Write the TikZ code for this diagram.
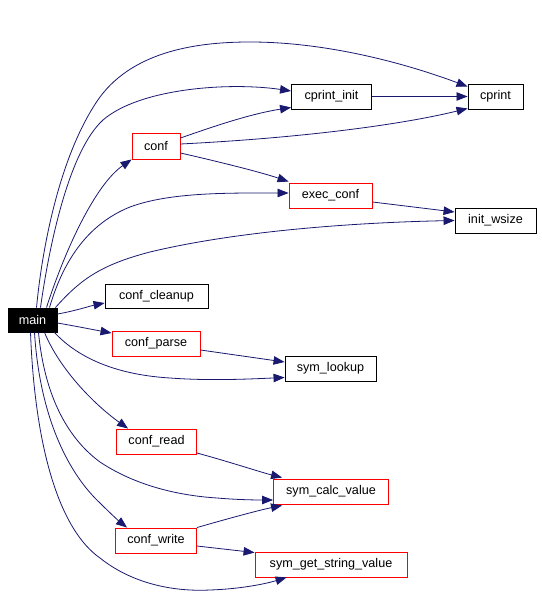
\documentclass[tikz,border=0pt]{standalone}
\usepackage{fontspec}
\setmainfont{Liberation Sans}
\usetikzlibrary{arrows.meta,calc}
\definecolor{edgeblue}{HTML}{191970}
\begin{document}
\begin{tikzpicture}[x=1pt,y=-1pt,
  box/.style={draw=black,line width=0.9pt,minimum height=25pt,inner sep=0pt,font=\fontsize{12.6}{15}\selectfont,fill=white},
  redbox/.style={box,draw=red},
  mainbox/.style={box,fill=black,text=white},
  e/.style={draw=edgeblue,line width=0.8pt,-{Triangle[length=11pt,width=8.5pt]},fill=none},
]
\fill[white] (0,0) rectangle (541,609);
\useasboundingbox (0,0) rectangle (541,609);

\node[mainbox,minimum width=49pt,minimum height=24pt] (main) at (32.5,320) {main};
\node[redbox,minimum width=48pt,minimum height=26pt] (conf) at (156,146) {conf};
\node[box,minimum width=80pt] (cprint_init) at (331.5,96.5) {cprint\_init};
\node[box,minimum width=55pt] (cprint) at (495.5,96.5) {cprint};
\node[redbox,minimum width=83pt] (exec_conf) at (330.5,195.5) {exec\_conf};
\node[box,minimum width=81pt] (init_wsize) at (495.5,220.5) {init\_wsize};
\node[box,minimum width=103pt,minimum height=24pt] (conf_cleanup) at (156.5,296) {conf\_cleanup};
\node[redbox,minimum width=88pt] (conf_parse) at (156,343.5) {conf\_parse};
\node[box,minimum width=91pt] (sym_lookup) at (330.5,368.5) {sym\_lookup};
\node[redbox,minimum width=80pt] (conf_read) at (156.5,441.5) {conf\_read};
\node[redbox,minimum width=115pt] (sym_calc_value) at (331,491.5) {sym\_calc\_value};
\node[redbox,minimum width=81pt] (conf_write) at (156,540.5) {conf\_write};
\node[redbox,minimum width=152pt] (sym_get_string_value) at (331,564.5) {sym\_get\_string\_value};

% main -> upper callees
\draw[e] ($(main.north)+(4,0)$) .. controls (43,240) and (62,150) .. (100,97)
  .. controls (135,50) and (200,42) .. (250,42)
  .. controls (330,42) and (410,65) .. ($(cprint.north west)+(0,3)$);
\draw[e] ($(main.north)+(8,0)$) .. controls (50,240) and (70,150) .. (103,120)
  .. controls (140,88) and (230,82) .. ($(cprint_init.west)+(0,-5.5)$);
\draw[e] ($(main.north)+(14,0)$) .. controls (65,250) and (95,185) .. (conf.south west);
\draw[e] ($(main.north)+(17,0)$) .. controls (62,265) and (85,225) .. (130,207)
  .. controls (170,192) and (230,193) .. ($(exec_conf.west)+(0,-2.5)$);
\draw[e] ($(main.north east)+(-2,0)$) .. controls (80,280) and (100,265) .. (150,252)
  .. controls (250,228) and (380,222) .. (init_wsize.west);

% conf -> callees
\draw[e] ($(conf.east)+(0,-8)$) .. controls (215,126) and (250,114) .. ($(cprint_init.south west)+(0,-2)$);
\draw[e] ($(conf.east)+(0,-2)$) .. controls (300,138) and (400,125) .. ($(cprint.south west)+(0,-1)$);
\draw[e] ($(conf.east)+(0,7)$) .. controls (220,162) and (260,172) .. ($(exec_conf.north west)+(0,-1)$);
\draw[e] (cprint_init.east) -- (cprint.west);
\draw[e] ($(exec_conf.east)+(0,6.5)$) -- ($(init_wsize.west)+(0,-8.5)$);

% main -> middle callees
\draw[e] ($(main.east)+(0,-6)$) .. controls (75,311) and (90,306) .. ($(conf_cleanup.west)+(0,7)$);
\draw[e] ($(main.east)+(0,3)$) .. controls (75,326) and (95,330) .. ($(conf_parse.west)+(0,-10.5)$);
\draw[e] ($(conf_parse.east)+(0,6.5)$) -- ($(sym_lookup.west)+(0,-6.5)$);
\draw[e] ($(main.south east)+(-3,0)$) .. controls (80,360) and (120,375) .. (170,378)
  .. controls (210,381) and (250,379) .. ($(sym_lookup.west)+(0,9)$);

% main -> lower callees
\draw[e] ($(main.south)+(12,0)$) .. controls (60,370) and (95,405) .. ($(conf_read.north west)+(12,0)$);
\draw[e] ($(main.south)+(6,0)$) .. controls (45,400) and (70,440) .. (100,462)
  .. controls (130,482) and (170,495) .. (217,498)
  .. controls (240,500) and (260,500) .. ($(sym_calc_value.west)+(0,8.5)$);
\draw[e] ($(conf_read.east)+(0,11.5)$) .. controls (230,462) and (260,472) .. ($(sym_calc_value.north west)+(9,-1)$);
\draw[e] (conf_write.north east) .. controls (230,518) and (260,510) .. ($(sym_calc_value.south west)+(9,1)$);
\draw[e] ($(main.south)+(2,0)$) .. controls (40,420) and (70,475) .. (100,503)
  .. controls (112,515) and (120,522) .. ($(conf_write.north west)+(12,0)$);
\draw[e] ($(conf_write.east)+(0,5.5)$) -- ($(sym_get_string_value.north west)+(0,1)$);
\draw[e] ($(main.south)+(-2,0)$) .. controls (35,450) and (60,530) .. (100,558)
  .. controls (130,582) and (170,592) .. (210,590)
  .. controls (240,589) and (265,584) .. ($(sym_get_string_value.south west)+(32,0)$);
\end{tikzpicture}
\end{document}
